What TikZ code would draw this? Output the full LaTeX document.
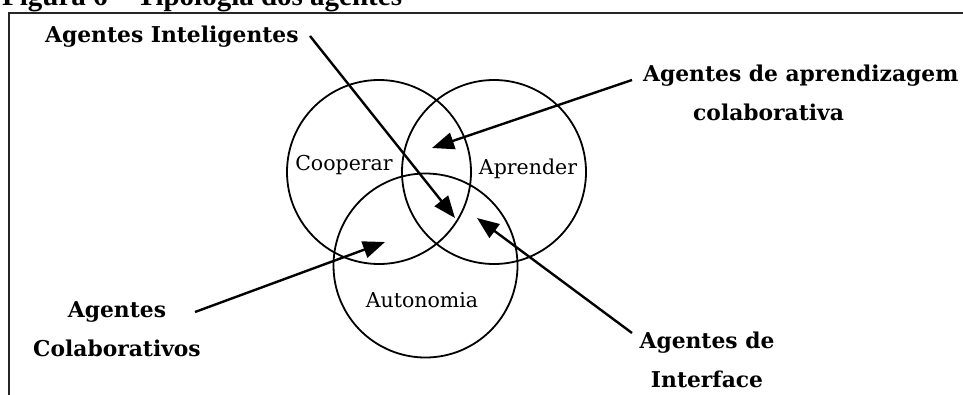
\documentclass[tikz,border=0pt]{standalone}
\usepackage{fontspec}
\usetikzlibrary{arrows.meta}
\newfontfamily\circfont{DejaVu Serif}
\newfontfamily\tagfont{DejaVu Serif}
\newfontfamily\capfont{Liberation Serif}
\begin{document}
\begin{tikzpicture}[x=1pt,y=-1pt,
  ring/.style={draw, circle, line width=1.8pt, minimum size=184pt, inner sep=0pt},
  ringlabel/.style={inner sep=0pt, anchor=base, font={\circfont\fontsize{20.5}{20.5}\selectfont}},
  tag/.style={inner sep=0pt, font={\tagfont\bfseries\fontsize{21.8}{38.5}\selectfont}},
  pointer/.style={line width=2.4pt, -{Triangle[length=22pt,width=17pt]}},
  frameline/.style={line width=2pt, draw=black!85}]
  % canvas
  \useasboundingbox (0,0) rectangle (963,394);
  % caption, partly above the frame
  \node[inner sep=0pt, anchor=base west, font={\capfont\bfseries\fontsize{29}{29}\selectfont}]
    (caption) at (2,5) {Figura 6 – Tipologia dos agentes};
  % frame (left and top edges)
  \coordinate (fbl) at (9,400);
  \coordinate (ftl) at (9,13);
  \coordinate (ftr) at (970,13);
  \draw[frameline] (fbl) -- (ftl) -- (ftr);
  % the three sets
  \node[ring] (coop) at (379,172) {};
  \node[ring] (apr) at (494,172) {};
  \node[ring] (aut) at (425.5,265.5) {};
  \node[ringlabel] (lcoop) at (344,170) {Cooperar};
  \node[ringlabel] (lapr) at (528,174) {Aprender};
  \node[ringlabel] (laut) at (422,307) {Autonomia};
  % agent types (base anchor = baseline of the last line)
  \node[tag, anchor=base west] (intel) at (45,42) {Agentes Inteligentes};
  \node[tag, anchor=base west, align=left] (aprcol) at (643,120)
    {Agentes de aprendizagem\\\hspace*{50pt}colaborativa};
  \node[tag, anchor=base, align=center] (colab) at (117,356) {Agentes\\Colaborativos};
  \node[tag, anchor=base, align=center] (iface) at (707,387) {Agentes de\\Interface};
  % pointers into the overlaps
  \coordinate (intelS) at (310,36);
  \coordinate (intelT) at (455,218);
  \coordinate (aprS) at (632,80);
  \coordinate (aprT) at (432,148);
  \coordinate (colS) at (195,312);
  \coordinate (colT) at (385,242);
  \coordinate (ifS) at (632,333);
  \coordinate (ifT) at (477,218);
  \draw[pointer] (intelS) -- (intelT);
  \draw[pointer] (aprS) -- (aprT);
  \draw[pointer] (colS) -- (colT);
  \draw[pointer] (ifS) -- (ifT);
\end{tikzpicture}
\end{document}
